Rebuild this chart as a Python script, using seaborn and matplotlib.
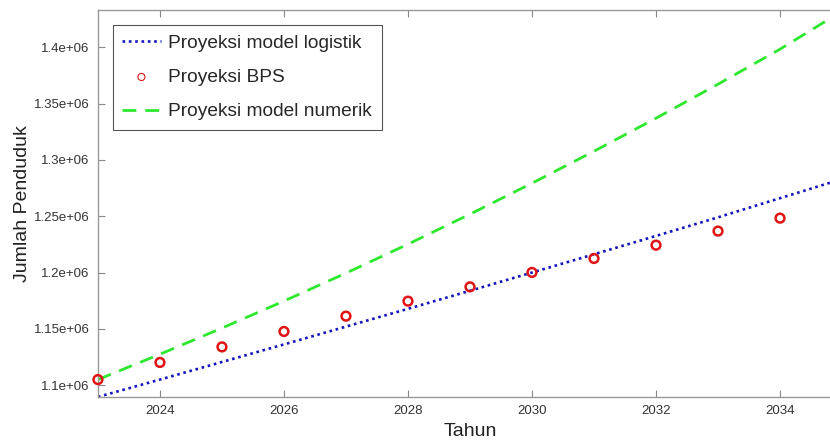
import matplotlib.pyplot as plt
import matplotlib.ticker as mticker
import pandas as pd
import seaborn as sns

# data
tahun = [2023, 2024, 2025, 2026, 2027, 2028, 2029, 2030, 2031, 2032, 2033, 2034, 2035]
logistik = [1.0896e6, 1.1050e6, 1.1206e6, 1.1362e6, 1.1520e6, 1.1678e6, 1.1838e6,
            1.2000e6, 1.2162e6, 1.2325e6, 1.2490e6, 1.2660e6, 1.2830e6]
bps = [1.1050e6, 1.1202e6, 1.1340e6, 1.1477e6, 1.1613e6, 1.1746e6, 1.1873e6,
       1.2001e6, 1.2125e6, 1.2243e6, 1.2368e6, 1.2483e6, 1.2570e6]
numerik = [1.1050e6, 1.1275e6, 1.1507e6, 1.1747e6, 1.1995e6, 1.2252e6, 1.2518e6,
           1.2793e6, 1.3077e6, 1.3370e6, 1.3672e6, 1.3983e6, 1.4320e6]
xticks = [2024, 2026, 2028, 2030, 2032, 2034]
yticks = [1.1e6, 1.15e6, 1.2e6, 1.25e6, 1.3e6, 1.35e6, 1.4e6]

df = pd.DataFrame({"Tahun": tahun, "logistik": logistik, "bps": bps, "numerik": numerik})

sns.set_theme(style="white")
plt.rcParams["font.family"] = ["Liberation Sans", "DejaVu Sans"]

fig = plt.figure(figsize=(8.3, 4.42), dpi=100)
# the axes run a little past the right edge of the picture, as in the reference
ax = fig.add_axes([0.118, 0.102, 0.8965, 0.8755])

sns.lineplot(data=df, x="Tahun", y="logistik", ax=ax, color="#1414c0",
             linestyle=(0, (1, 1.4)), linewidth=1.9, label="Proyeksi model logistik")
sns.scatterplot(data=df, x="Tahun", y="bps", ax=ax, marker="o", s=40,
                facecolor="none", edgecolor="#e01414", linewidth=1.8,
                label="Proyeksi BPS", zorder=3, clip_on=False)
sns.lineplot(data=df, x="Tahun", y="numerik", ax=ax, color="#2ee82e",
             linestyle=(0, (5, 3.2)), linewidth=2.0, label="Proyeksi model numerik")

ax.set_xlim(2023, 2035)
ax.set_ylim(1.0896e6, 1.4331e6)
ax.set_xticks(xticks)
ax.set_yticks(yticks)
ax.yaxis.set_major_formatter(mticker.FuncFormatter(lambda v, p: "{:g}".format(v)))
ax.tick_params(direction="in", length=5, width=0.8, color="#888888",
               labelsize=9.5, labelcolor="#333333", top=True, right=True,
               bottom=True, left=True, pad=6)
for s in ax.spines.values():
    s.set_color("#999999")
    s.set_linewidth(1.0)

ax.set_xlabel("Tahun", fontsize=14, color="#222222", labelpad=4)
ax.set_ylabel("Jumlah Penduduk", fontsize=14, color="#222222", labelpad=2)

leg = ax.legend(loc="upper left", fontsize=13.8, frameon=True, fancybox=False,
                edgecolor="#555555", framealpha=1, borderaxespad=0.77,
                handlelength=2.0, handletextpad=0.4, labelspacing=0.88,
                borderpad=0.5)
leg.get_frame().set_linewidth(0.8)
h = leg.legend_handles[1]
h.set_sizes([26])
h.set_linewidths(0.8)

fig.savefig("out.png", dpi=100)
